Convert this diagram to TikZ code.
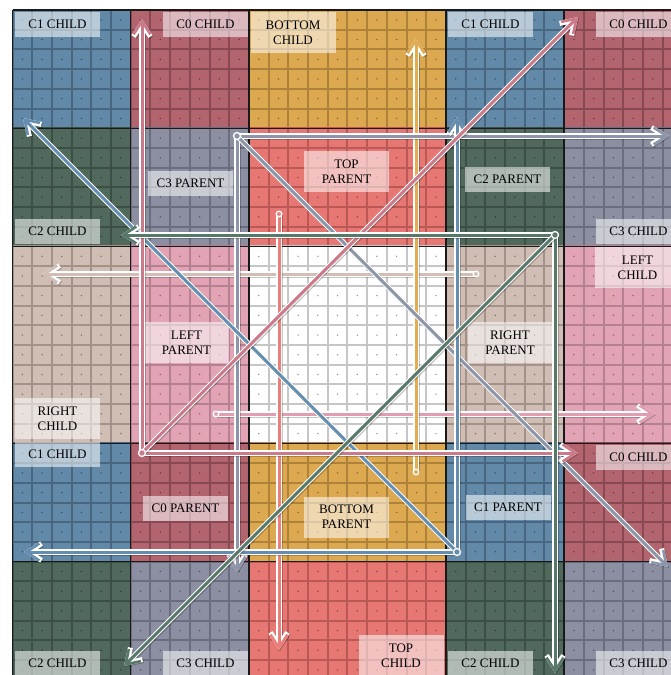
\documentclass[tikz,border=0pt]{standalone}
\usepackage{fontspec}
\setmainfont{Liberation Serif}
\usetikzlibrary{arrows.meta}
\definecolor{fBlue}{HTML}{6289A8}\definecolor{lBlue}{HTML}{48667F}
\definecolor{fMar}{HTML}{B3656F}\definecolor{lMar}{HTML}{884953}
\definecolor{fYel}{HTML}{DDA950}\definecolor{lYel}{HTML}{AE8239}
\definecolor{fGrn}{HTML}{50695C}\definecolor{lGrn}{HTML}{3B4F44}
\definecolor{fGry}{HTML}{8B8FA1}\definecolor{lGry}{HTML}{696D7D}
\definecolor{fSal}{HTML}{E67772}\definecolor{lSal}{HTML}{B95854}
\definecolor{fPnk}{HTML}{E2A3B4}\definecolor{lPnk}{HTML}{B5808F}
\definecolor{fBei}{HTML}{D0BDB4}\definecolor{lBei}{HTML}{A3928A}
\definecolor{fWht}{HTML}{FFFFFF}\definecolor{lWht}{HTML}{C6C6C6}
\definecolor{aCzero}{HTML}{CB7A8A}
\definecolor{aCthree}{HTML}{8E95A9}
\definecolor{aCone}{HTML}{658DB0}
\definecolor{aCtwo}{HTML}{58786A}
\definecolor{aTop}{HTML}{EA7E78}
\definecolor{aBot}{HTML}{E2AC52}
\definecolor{aLeft}{HTML}{E09EB0}
\definecolor{aRight}{HTML}{D2BEB5}
\newcommand\gblk[6]{%
  \fill[#5] ({12.5+#1*19.7},{10+#2*19.7}) rectangle ({12.5+(#1+#3)*19.7},{10+(#2+#4)*19.7});
  \foreach \ii in {0,...,#3}{\draw[#6,line width=2pt] ({12.5+(#1+\ii)*19.7},{10+#2*19.7}) -- ++(0,{#4*19.7});}
  \foreach \jj in {0,...,#4}{\draw[#6,line width=2pt] ({12.5+#1*19.7},{10+(#2+\jj)*19.7}) -- ++({#3*19.7},0);}
  \pgfmathtruncatemacro\ncm{#3-1}\pgfmathtruncatemacro\nrm{#4-1}
  \foreach \ii in {0,...,\ncm}{\foreach \jj in {0,...,\nrm}{\fill[#6!70!black] ({12.5+(#1+\ii+0.5)*19.7},{10+(#2+\jj+0.5)*19.7}) circle[radius=0.75pt];}}
}
\tikzset{
  lbl/.style={fill=white, fill opacity=0.55, text opacity=1, minimum width=85pt, minimum height=25pt,
    inner sep=0pt, align=center, font=\fontsize{13}{15}\selectfont, text=black},
  lbltwo/.style={lbl, minimum height=41pt},
  arrw/.style={line width=3pt, draw=#1,
    -{Straight Barb[length=13pt,width=17pt,line width=2.6pt]},
    preaction={draw=black, draw opacity=0.22, line width=5.2pt, transform canvas={shift={(1pt,-1pt)}},
      -{Straight Barb[length=13pt,width=17pt,line width=5pt]}},
    preaction={draw=white, line width=5.2pt, -{Straight Barb[length=13pt,width=17pt,line width=5pt]}}},
  orig/.style={fill=#1, draw=white, line width=1.3pt}
}
\begin{document}
\begin{tikzpicture}[x=1pt,y=-1pt]
\useasboundingbox (0,0) rectangle (671,675);
\clip (0,0) rectangle (671,675);
\fill[white] (0,0) rectangle (671,675);
% row 0
\gblk{0}{0}{6}{6}{fBlue}{lBlue}
\gblk{6}{0}{6}{6}{fMar}{lMar}
\gblk{12}{0}{10}{6}{fYel}{lYel}
\gblk{22}{0}{6}{6}{fBlue}{lBlue}
\gblk{28}{0}{6}{6}{fMar}{lMar}
% row 1
\gblk{0}{6}{6}{6}{fGrn}{lGrn}
\gblk{6}{6}{6}{6}{fGry}{lGry}
\gblk{12}{6}{10}{6}{fSal}{lSal}
\gblk{22}{6}{6}{6}{fGrn}{lGrn}
\gblk{28}{6}{6}{6}{fGry}{lGry}
% row 2
\gblk{0}{12}{6}{10}{fBei}{lBei}
\gblk{6}{12}{6}{10}{fPnk}{lPnk}
\gblk{12}{12}{10}{10}{fWht}{lWht}
\gblk{22}{12}{6}{10}{fBei}{lBei}
\gblk{28}{12}{6}{10}{fPnk}{lPnk}
% row 3
\gblk{0}{22}{6}{6}{fBlue}{lBlue}
\gblk{6}{22}{6}{6}{fMar}{lMar}
\gblk{12}{22}{10}{6}{fYel}{lYel}
\gblk{22}{22}{6}{6}{fBlue}{lBlue}
\gblk{28}{22}{6}{6}{fMar}{lMar}
% row 4
\gblk{0}{28}{6}{6}{fGrn}{lGrn}
\gblk{6}{28}{6}{6}{fGry}{lGry}
\gblk{12}{28}{10}{6}{fSal}{lSal}
\gblk{22}{28}{6}{6}{fGrn}{lGrn}
\gblk{28}{28}{6}{6}{fGry}{lGry}
% block borders
\foreach \c in {0,6,12,22,28,34}{
  \draw[black!90,line width=1.3pt] ({12.5+\c*19.7},10) -- ({12.5+\c*19.7},680);
  \draw[black!90,line width=1.3pt] (12.5,{10+\c*19.7}) -- (682,{10+\c*19.7});
}
% labels
\node[lbl] (l1) at (57.5,24.5) {C1 CHILD};
\node[lbl] (l2) at (205.5,24.5) {C0 CHILD};
\node[lbltwo] (l3) at (293,32.5) {BOTTOM\\CHILD};
\node[lbl] (l4) at (490.5,24.5) {C1 CHILD};
\node[lbl] (l5) at (638.5,24.5) {C0 CHILD};
\node[lbl] (l6) at (57.5,231.5) {C2 CHILD};
\node[lbl] (l7) at (190.5,183.5) {C3 PARENT};
\node[lbltwo] (l8) at (346.5,171.5) {TOP\\PARENT};
\node[lbl] (l9) at (507.5,179.5) {C2 PARENT};
\node[lbl] (l10) at (638.5,231.5) {C3 CHILD};
\node[lbltwo] (l11) at (637.5,267.5) {LEFT\\CHILD};
\node[lbltwo] (l12) at (186.5,342.5) {LEFT\\PARENT};
\node[lbltwo] (l13) at (510,342.5) {RIGHT\\PARENT};
\node[lbltwo] (l14) at (57.5,418.5) {RIGHT\\CHILD};
\node[lbl] (l15) at (57.5,454.5) {C1 CHILD};
\node[lbl] (l16) at (185.5,508.5) {C0 PARENT};
\node[lbltwo] (l17) at (346.5,517) {BOTTOM\\PARENT};
\node[lbl] (l18) at (508,507.5) {C1 PARENT};
\node[lbl] (l19) at (638.5,457) {C0 CHILD};
\node[lbl] (l20) at (57.5,663.5) {C2 CHILD};
\node[lbl] (l21) at (205.5,663.5) {C3 CHILD};
\node[lbltwo] (l22) at (401,655.5) {TOP\\CHILD};
\node[lbl] (l23) at (490.5,663.5) {C2 CHILD};
\node[lbl] (l24) at (638.5,663.5) {C3 CHILD};
% arrow end points
\coordinate (c0o) at (142,453);
\coordinate (c0u) at (142,19);
\coordinate (c0r) at (578,453);
\coordinate (c0d) at (578,17);
\coordinate (c3o) at (237,136);
\coordinate (c3dn) at (237,572);
\coordinate (c3r) at (669,136);
\coordinate (c3d) at (668,567);
\coordinate (c1o) at (457,552);
\coordinate (c1u) at (457,117);
\coordinate (c1l) at (24,552);
\coordinate (c1d) at (23,118);
\coordinate (c2o) at (555,235);
\coordinate (c2l) at (121,235);
\coordinate (c2dn) at (555,673);
\coordinate (c2d) at (124,666);
\coordinate (topo) at (279,214);
\coordinate (topc) at (279,650);
\coordinate (boto) at (416,472);
\coordinate (botc) at (416,38);
\coordinate (lefo) at (216,414);
\coordinate (lefc) at (655,414);
\coordinate (rigo) at (476,274);
\coordinate (rigc) at (42,274);
% arrows
\draw[arrw=aRight] (rigo) -- (rigc);
\draw[arrw=aLeft] (lefo) -- (lefc);
\draw[arrw=aTop] (topo) -- (topc);
\draw[arrw=aBot] (boto) -- (botc);
\draw[arrw=aCthree] (c3o) -- (c3dn);
\draw[arrw=aCthree] (c3o) -- (c3r);
\draw[arrw=aCthree] (c3o) -- (c3d);
\draw[arrw=aCone] (c1o) -- (c1u);
\draw[arrw=aCone] (c1o) -- (c1l);
\draw[arrw=aCone] (c1o) -- (c1d);
\draw[arrw=aCzero] (c0o) -- (c0u);
\draw[arrw=aCzero] (c0o) -- (c0r);
\draw[arrw=aCzero] (c0o) -- (c0d);
\draw[arrw=aCtwo] (c2o) -- (c2l);
\draw[arrw=aCtwo] (c2o) -- (c2dn);
\draw[arrw=aCtwo] (c2o) -- (c2d);
\fill[orig=aCzero] (c0o) circle[radius=3.5pt];
\fill[orig=aCthree] (c3o) circle[radius=3.5pt];
\fill[orig=aCone] (c1o) circle[radius=3.5pt];
\fill[orig=aCtwo] (c2o) circle[radius=3.5pt];
\fill[orig=aTop] (topo) circle[radius=2.8pt];
\fill[orig=aBot] (boto) circle[radius=2.8pt];
\fill[orig=aLeft] (lefo) circle[radius=2.8pt];
\fill[orig=aRight] (rigo) circle[radius=2.8pt];
\end{tikzpicture}
\end{document}
